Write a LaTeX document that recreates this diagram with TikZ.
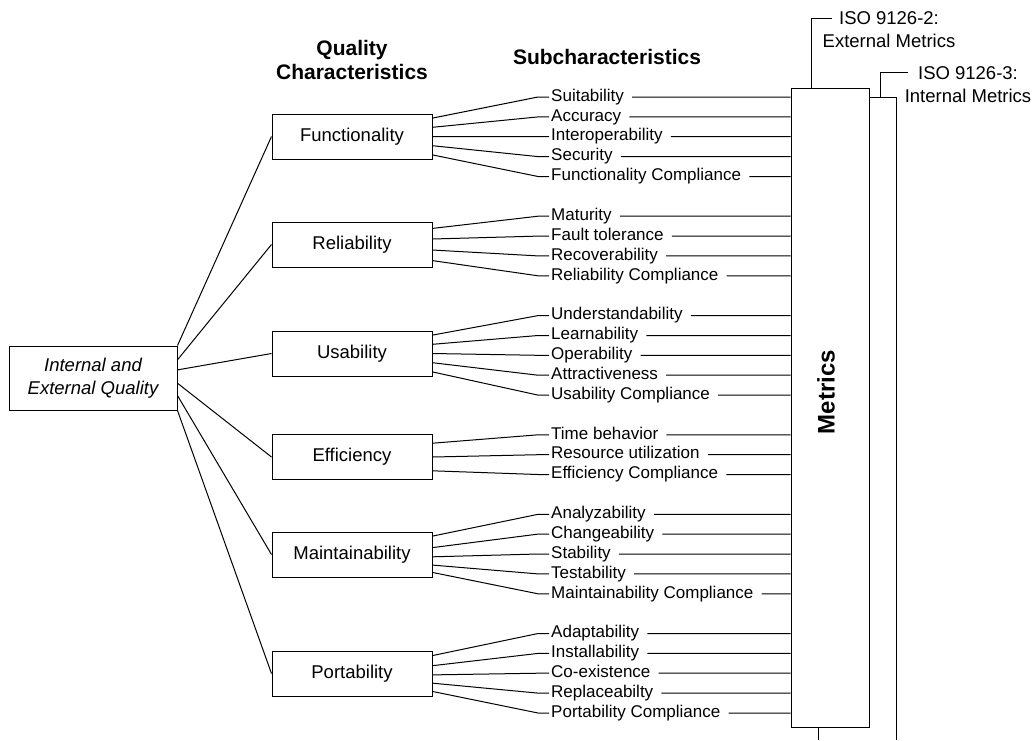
\documentclass[tikz,border=0pt]{standalone}
\usepackage{fontspec}
\setmainfont{Liberation Sans}
\usetikzlibrary{positioning, calc}

\begin{document}
\begin{tikzpicture}[
    x=1pt, y=-1pt,
    link/.style={line width=1pt},
    charbox/.style={rectangle, draw, line width=1pt, minimum width=160pt,
                    minimum height=45pt, font=\fontsize{18.5}{22}\selectfont},
    sub/.style={anchor=west, inner xsep=2pt, inner ysep=0pt, text height=12pt,
                text depth=3.5pt, font=\fontsize{17}{20}\selectfont},
    heading/.style={align=center, font=\fontsize{21}{24}\selectfont\bfseries},
    isolabel/.style={align=center, font=\fontsize{18.5}{23}\selectfont},
]
\useasboundingbox (0,0) rectangle (1032,740);

% Root and characteristics
\node[charbox, minimum width=168pt, minimum height=64pt, align=center,
      font=\fontsize{18.5}{23}\selectfont\itshape] (quality) at (93,378) {Internal and\\External Quality};
\node[charbox] (func) at (352,136.5) {Functionality};
\node[charbox] (rel) at (352,244.5) {Reliability};
\node[charbox] (usa) at (352,353.5) {Usability};
\node[charbox] (eff) at (352,457) {Efficiency};
\node[charbox] (maint) at (352,554.5) {Maintainability};
\node[charbox] (port) at (352,673.5) {Portability};

% Headings
\node[heading, above=30pt of func] (qchar) {Quality\\Characteristics};
\node[heading] (subchar) at (607,57) {Subcharacteristics};

% Metrics
\node[draw, line width=1pt, minimum width=78pt, minimum height=639pt] (metrics) at (830,407.5) {};
\node[rotate=90, font=\fontsize{24}{28}\selectfont\bfseries] (metricstext) at (826,392) {Metrics};
\coordinate (inttop) at (896,97);
\coordinate (intend) at (896,740);
\coordinate (stemend) at (818,740);
\draw[link] (metrics.east |- inttop) -- (inttop) -- (intend);
\draw[link] (metrics.south -| stemend) -- (stemend);

% ISO labels
\node[isolabel] (extiso) at (889,30) {ISO 9126-2:\\External Metrics};
\node[isolabel] (intiso) at (968,85) {ISO 9126-3:\\Internal Metrics};
\coordinate (extknee) at (811,18);
\coordinate (extlead) at (832,18);
\coordinate (intknee) at (880,72);
\coordinate (intlead) at (908,72);
\draw[link] (metrics.north -| extknee) -- (extknee) -- (extlead);
\draw[link] (inttop -| intknee) -- (intknee) -- (intlead);

% Subcharacteristics
\node[sub] (suit) at (549,97) {Suitability};
\node[sub] (accu) at (549,116.9) {Accuracy};
\node[sub] (inter) at (549,136.7) {Interoperability};
\node[sub] (secu) at (549,156.6) {Security};
\node[sub] (funccomp) at (549,176.5) {Functionality Compliance};
\node[sub] (matu) at (549,216.2) {Maturity};
\node[sub] (fault) at (549,236.1) {Fault tolerance};
\node[sub] (recov) at (549,255.9) {Recoverability};
\node[sub] (relcomp) at (549,275.8) {Reliability Compliance};
\node[sub] (under) at (549,315.6) {Understandability};
\node[sub] (learn) at (549,335.5) {Learnability};
\node[sub] (oper) at (549,355.3) {Operability};
\node[sub] (attr) at (549,375.2) {Attractiveness};
\node[sub] (usacomp) at (549,395.1) {Usability Compliance};
\node[sub] (time) at (549,434.8) {Time behavior};
\node[sub] (resource) at (549,454.7) {Resource utilization};
\node[sub] (effcomp) at (549,474.5) {Efficiency Compliance};
\node[sub] (analy) at (549,514.3) {Analyzability};
\node[sub] (change) at (549,534.1) {Changeability};
\node[sub] (stab) at (549,554) {Stability};
\node[sub] (test) at (549,573.9) {Testability};
\node[sub] (maintcomp) at (549,593.8) {Maintainability Compliance};
\node[sub] (adapt) at (549,633.5) {Adaptability};
\node[sub] (install) at (549,653.4) {Installability};
\node[sub] (coexist) at (549,673.2) {Co-existence};
\node[sub] (replace) at (549,693.1) {Replaceabilty};
\node[sub] (portcomp) at (549,713) {Portability Compliance};

% Root to characteristics
\draw[link] ($(quality.north east)!0!(quality.south east)$) -- (func.west);
\draw[link] ($(quality.north east)!0.22!(quality.south east)$) -- (rel.west);
\draw[link] ($(quality.north east)!0.375!(quality.south east)$) -- (usa.west);
\draw[link] ($(quality.north east)!0.58!(quality.south east)$) -- (eff.west);
\draw[link] ($(quality.north east)!0.77!(quality.south east)$) -- (maint.west);
\draw[link] ($(quality.north east)!1!(quality.south east)$) -- (port.west);

% Characteristics to subcharacteristics to metrics
\draw[link] ($(func.north east)!0.1!(func.south east)$) -- ([xshift=-11pt]suit.west) -- (suit.west) ([xshift=6pt]suit.east) -- (suit.east -| metrics.west);
\draw[link] ($(func.north east)!0.3!(func.south east)$) -- ([xshift=-11pt]accu.west) -- (accu.west) ([xshift=6pt]accu.east) -- (accu.east -| metrics.west);
\draw[link] ($(func.north east)!0.5!(func.south east)$) -- ([xshift=-11pt]inter.west) -- (inter.west) ([xshift=6pt]inter.east) -- (inter.east -| metrics.west);
\draw[link] ($(func.north east)!0.7!(func.south east)$) -- ([xshift=-11pt]secu.west) -- (secu.west) ([xshift=6pt]secu.east) -- (secu.east -| metrics.west);
\draw[link] ($(func.north east)!0.9!(func.south east)$) -- ([xshift=-11pt]funccomp.west) -- (funccomp.west) ([xshift=6pt]funccomp.east) -- (funccomp.east -| metrics.west);

\draw[link] ($(rel.north east)!0.15!(rel.south east)$) -- ([xshift=-11pt]matu.west) -- (matu.west) ([xshift=6pt]matu.east) -- (matu.east -| metrics.west);
\draw[link] ($(rel.north east)!0.38!(rel.south east)$) -- ([xshift=-11pt]fault.west) -- (fault.west) ([xshift=6pt]fault.east) -- (fault.east -| metrics.west);
\draw[link] ($(rel.north east)!0.62!(rel.south east)$) -- ([xshift=-11pt]recov.west) -- (recov.west) ([xshift=6pt]recov.east) -- (recov.east -| metrics.west);
\draw[link] ($(rel.north east)!0.85!(rel.south east)$) -- ([xshift=-11pt]relcomp.west) -- (relcomp.west) ([xshift=6pt]relcomp.east) -- (relcomp.east -| metrics.west);

\draw[link] ($(usa.north east)!0.1!(usa.south east)$) -- ([xshift=-11pt]under.west) -- (under.west) ([xshift=6pt]under.east) -- (under.east -| metrics.west);
\draw[link] ($(usa.north east)!0.3!(usa.south east)$) -- ([xshift=-11pt]learn.west) -- (learn.west) ([xshift=6pt]learn.east) -- (learn.east -| metrics.west);
\draw[link] ($(usa.north east)!0.5!(usa.south east)$) -- ([xshift=-11pt]oper.west) -- (oper.west) ([xshift=6pt]oper.east) -- (oper.east -| metrics.west);
\draw[link] ($(usa.north east)!0.7!(usa.south east)$) -- ([xshift=-11pt]attr.west) -- (attr.west) ([xshift=6pt]attr.east) -- (attr.east -| metrics.west);
\draw[link] ($(usa.north east)!0.9!(usa.south east)$) -- ([xshift=-11pt]usacomp.west) -- (usacomp.west) ([xshift=6pt]usacomp.east) -- (usacomp.east -| metrics.west);

\draw[link] ($(eff.north east)!0.2!(eff.south east)$) -- ([xshift=-11pt]time.west) -- (time.west) ([xshift=6pt]time.east) -- (time.east -| metrics.west);
\draw[link] ($(eff.north east)!0.5!(eff.south east)$) -- ([xshift=-11pt]resource.west) -- (resource.west) ([xshift=6pt]resource.east) -- (resource.east -| metrics.west);
\draw[link] ($(eff.north east)!0.8!(eff.south east)$) -- ([xshift=-11pt]effcomp.west) -- (effcomp.west) ([xshift=6pt]effcomp.east) -- (effcomp.east -| metrics.west);

\draw[link] ($(maint.north east)!0.1!(maint.south east)$) -- ([xshift=-11pt]analy.west) -- (analy.west) ([xshift=6pt]analy.east) -- (analy.east -| metrics.west);
\draw[link] ($(maint.north east)!0.35!(maint.south east)$) -- ([xshift=-11pt]change.west) -- (change.west) ([xshift=6pt]change.east) -- (change.east -| metrics.west);
\draw[link] ($(maint.north east)!0.55!(maint.south east)$) -- ([xshift=-11pt]stab.west) -- (stab.west) ([xshift=6pt]stab.east) -- (stab.east -| metrics.west);
\draw[link] ($(maint.north east)!0.73!(maint.south east)$) -- ([xshift=-11pt]test.west) -- (test.west) ([xshift=6pt]test.east) -- (test.east -| metrics.west);
\draw[link] ($(maint.north east)!0.89!(maint.south east)$) -- ([xshift=-11pt]maintcomp.west) -- (maintcomp.west) ([xshift=6pt]maintcomp.east) -- (maintcomp.east -| metrics.west);

\draw[link] ($(port.north east)!0.11!(port.south east)$) -- ([xshift=-11pt]adapt.west) -- (adapt.west) ([xshift=6pt]adapt.east) -- (adapt.east -| metrics.west);
\draw[link] ($(port.north east)!0.33!(port.south east)$) -- ([xshift=-11pt]install.west) -- (install.west) ([xshift=6pt]install.east) -- (install.east -| metrics.west);
\draw[link] ($(port.north east)!0.53!(port.south east)$) -- ([xshift=-11pt]coexist.west) -- (coexist.west) ([xshift=6pt]coexist.east) -- (coexist.east -| metrics.west);
\draw[link] ($(port.north east)!0.71!(port.south east)$) -- ([xshift=-11pt]replace.west) -- (replace.west) ([xshift=6pt]replace.east) -- (replace.east -| metrics.west);
\draw[link] ($(port.north east)!0.89!(port.south east)$) -- ([xshift=-11pt]portcomp.west) -- (portcomp.west) ([xshift=6pt]portcomp.east) -- (portcomp.east -| metrics.west);

\end{tikzpicture}
\end{document}
